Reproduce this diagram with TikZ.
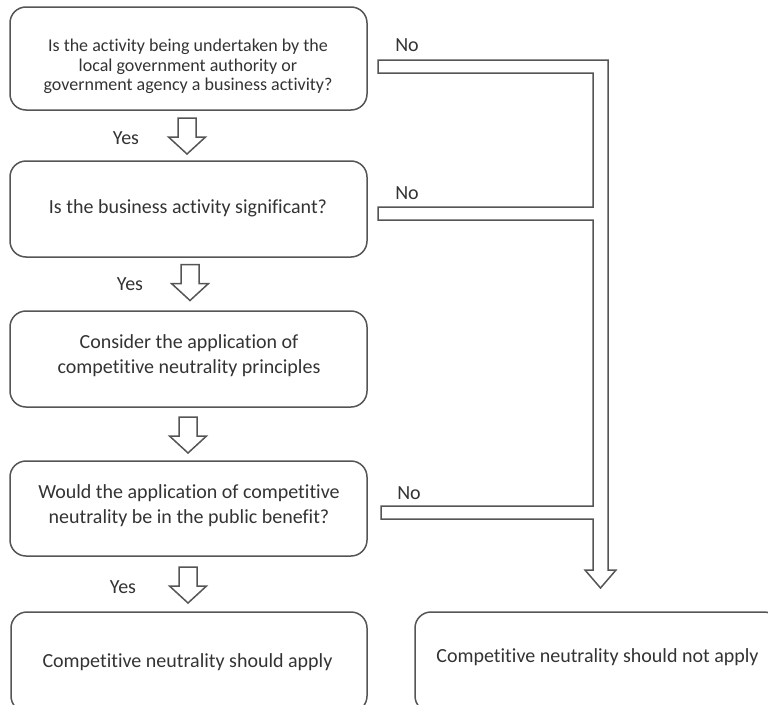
\documentclass[tikz,border=0pt]{standalone}
\usepackage{fontspec}
\setmainfont{Carlito}[Ligatures=NoCommon]
\definecolor{linec}{HTML}{555555}
\definecolor{textc}{HTML}{333333}
\tikzset{
  box/.style={draw=linec, line width=1.5pt, rounded corners=16pt, inner sep=0pt},
  txt/.style={text=textc, align=center, inner sep=0pt, font=\fontsize{20}{25}\selectfont},
  lbl/.style={text=textc, inner sep=0pt, font=\fontsize{20}{24}\selectfont},
  arrowline/.style={draw=linec, line width=1.5pt, fill=white, line join=miter},
  harrow/.pic={\draw[arrowline] (-9,-18) -- (9,-18) -- (9,1) -- (18.5,1) -- (0,18)
     -- (-18.5,1) -- (-9,1) -- cycle;}
}
\begin{document}
\begin{tikzpicture}[x=1pt,y=-1pt]
\useasboundingbox (0,0) rectangle (768,704);
\clip (0,0) rectangle (768,704);
% boxes
\node[box, minimum width=357pt, minimum height=103pt] (b1) at (188.5,58.5) {};
\node[box, minimum width=357pt, minimum height=96pt] (b2) at (188.5,209) {};
\node[box, minimum width=357pt, minimum height=96pt] (b3) at (188.5,359) {};
\node[box, minimum width=357pt, minimum height=95pt] (b4) at (188.5,508.5) {};
\node[box, minimum width=356pt, minimum height=100pt] (b5) at (189,662) {};
\node[box, minimum width=365pt, minimum height=100pt] (b6) at (597.5,662) {};
% texts
\node[txt, font=\fontsize{18}{19.5}\selectfont] (t1) at (188,66.5) {Is the activity being undertaken by the\\local government authority or\\government agency a business activity?};
\node[txt] (t2) at (188,208) {Is the business activity significant?};
\node[txt] (t3) at (189,355.5) {Consider the application of\\competitive neutrality principles};
\node[txt] (t4) at (189,505.5) {Would the application of competitive\\neutrality be in the public benefit?};
\node[txt] (t5) at (187.5,662) {Competitive neutrality should apply};
\node[txt] (t6) at (597.5,657) {Competitive neutrality should not apply};
% hollow down arrows between boxes
\pic (a1) at (187,136) {harrow};
\pic (a2) at (190,282.5) {harrow};
\pic (a3) at (188,435) {harrow};
\pic (a4) at (188,585) {harrow};
% yes labels
\node[lbl] (y1) at (126,138) {Yes};
\node[lbl] (y2) at (130,284) {Yes};
\node[lbl] (y3) at (123,587) {Yes};
% big elbow arrow (No branches)
\draw[arrowline] (378,60) -- (608,60) -- (608,570) -- (616,570) -- (600.5,588) -- (585,570)
  -- (593,570) -- (593,519) -- (381,519) -- (381,506) -- (593,506) -- (593,220)
  -- (378,220) -- (378,207) -- (593,207) -- (593,73) -- (378,73) -- cycle;
% no labels
\node[lbl] (n1) at (407,45) {No};
\node[lbl] (n2) at (407,193) {No};
\node[lbl] (n3) at (409,493) {No};
\end{tikzpicture}
\end{document}
